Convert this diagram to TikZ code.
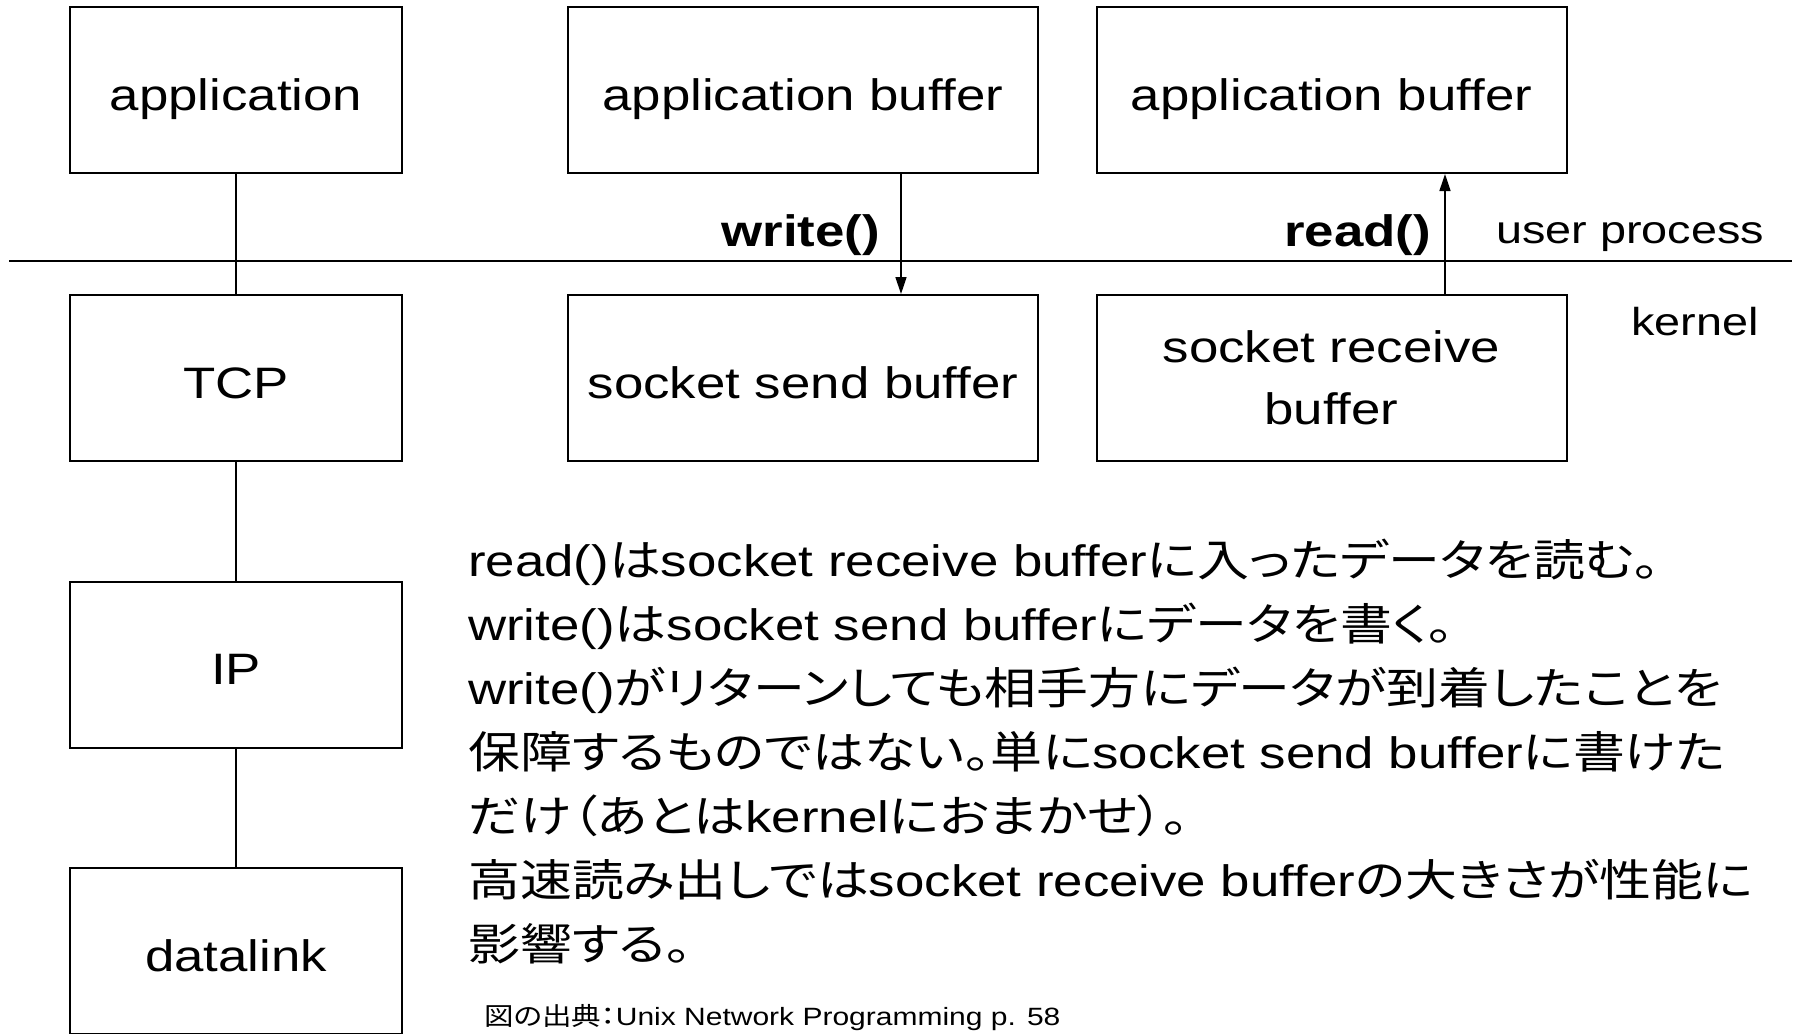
\documentclass[tikz,border=0pt]{standalone}
\usepackage{fontspec}
\setmainfont[FakeStretch=1.2]{Liberation Sans}
\newfontfamily\jpfont[FakeStretch=1.18,RawFeature=+palt]{Noto Sans CJK JP}
\newcommand\jtxt[1]{{\jpfont #1}}
\usetikzlibrary{arrows.meta}
\tikzset{
  plainbox/.style={draw,line width=2pt,minimum width=332pt,minimum height=166pt,inner sep=0pt,
    align=center,font=\fontsize{44}{62}\selectfont},
  layer/.style={plainbox,text height=40pt,text depth=0pt},
  bufbox/.style={layer,minimum width=470pt},
  link/.style={line width=1.5pt},
  call/.style={link,-{Triangle[length=17pt,width=11pt]}},
  callname/.style={anchor=base east,inner sep=0pt,font=\fontsize{44}{44}\selectfont\bfseries},
  side/.style={anchor=base west,inner sep=0pt,font=\fontsize{39}{39}\selectfont},
  note/.style={anchor=base west,inner sep=0pt,font=\fontsize{44}{64}\selectfont}
}
\begin{document}
\begin{tikzpicture}[x=1pt,y=-1pt]
\useasboundingbox (0,0) rectangle (1798,1033);
\clip (0,0) rectangle (1798,1033);
% protocol stack
\node[layer] (app) at (236,90) {application};
\node[layer] (tcp) at (236,378) {TCP};
\node[layer] (ip) at (236,664.5) {IP};
\node[layer] (dl) at (236,951) {datalink};
\draw[link] (app) -- (tcp);
\draw[link] (tcp) -- (ip);
\draw[link] (ip) -- (dl);
% buffers
\node[bufbox] (abufw) at (803,90) {application buffer};
\node[bufbox] (abufr) at (1331.5,90) {application buffer};
\node[bufbox] (sndbuf) at (803,378) {socket send buffer};
\node[plainbox,minimum width=470pt] (rcvbuf) at (1331.5,378) {socket receive\\buffer};
\draw[call] ([xshift=98pt]abufw.south) -- ([xshift=98pt]sndbuf.north);
\draw[call] ([xshift=113.5pt]rcvbuf.north) -- ([xshift=113.5pt]abufr.south);
% user / kernel border
\coordinate (kl) at (9,261);
\coordinate (kr) at (1792,261);
\draw[line width=2pt] (kl) -- (kr);
\node[callname] (wr) at (880,246) {write()};
\node[callname] (rd) at (1431,246) {read()};
\node[side] (up) at (1496,243) {user process};
\node[side] (kn) at (1631,335) {kernel};
% notes
\foreach \ln [count=\i from 0] in {
  {read()\jtxt{は}socket receive buffer\jtxt{に入ったデータを読む。}},
  {write()\jtxt{は}socket send buffer\jtxt{にデータを書く。}},
  {write()\jtxt{がリターンしても相手方にデータが到着したことを}},
  {\jtxt{保障するものではない。単に}socket send buffer\jtxt{に書けた}},
  {\jtxt{だけ（あとは}kernel\jtxt{におまかせ）。}},
  {\jtxt{高速読み出しでは}socket receive buffer\jtxt{の大きさが性能に}},
  {\jtxt{影響する。}}}
  \node[note] (txt\i) at (468,576+64*\i) {\ln};
\node[anchor=base west,inner sep=0pt,font=\fontsize{25}{25}\selectfont] (src) at (484,1025)
  {\jtxt{図の出典：}Unix Network Programming p. 58};
\end{tikzpicture}
\end{document}
